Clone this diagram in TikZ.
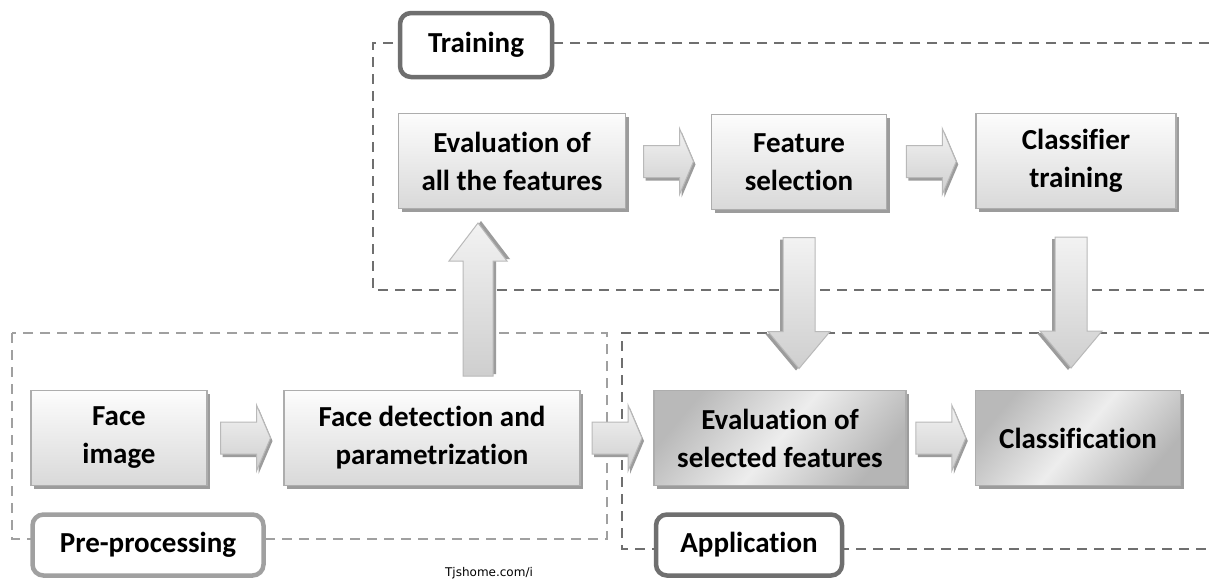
\documentclass[tikz,border=0pt]{standalone}
\usepackage{fontspec}
\setmainfont{Carlito}[Ligatures=CommonOff]
\newfontfamily\markfont{DejaVu Sans}
\usepackage{tikz}
\usetikzlibrary{calc,shadows}

\definecolor{dashdark}{HTML}{6F6F6F}
\definecolor{dashlight}{HTML}{A0A0A0}
\definecolor{boxline}{HTML}{ADADAD}
\definecolor{boxshade}{HTML}{9C9C9C}

\tikzset{
  frame/.style={dash pattern=on 10pt off 7pt, line width=2.2pt},
  tag/.style={draw, fill=white, rounded corners=11pt, line width=4.5pt,
    font=\fontsize{29}{32}\selectfont\bfseries},
  stage/.style={draw=boxline, line width=1.6pt, top color=gray!2, bottom color=gray!30,
    general shadow={fill=boxshade, shadow xshift=3pt, shadow yshift=-3pt},
    minimum height=95pt, align=center, font=\fontsize{29}{38}\selectfont\bfseries},
  applstage/.style={stage, left color=gray!55, right color=gray!58, middle color=gray!14,
    shading angle=50},
  pics/blockarrow/.style args={#1/#2/#3/#4}{code={
    \fill[boxshade] (-#1/2+2,-#3+3) -- (#1/2-#2+2,-#3+3) -- (#1/2-#2+2,-#4+3) -- (#1/2+2,3)
      -- (#1/2-#2+2,#4+3) -- (#1/2-#2+2,#3+3) -- (-#1/2+2,#3+3) -- cycle;
    \draw[draw=gray!55, line width=1pt, top color=gray!10, bottom color=gray!38]
      (-#1/2,-#3) -- (#1/2-#2,-#3) -- (#1/2-#2,-#4) -- (#1/2,0)
      -- (#1/2-#2,#4) -- (#1/2-#2,#3) -- (-#1/2,#3) -- cycle;
  }},
}

\begin{document}
\begin{tikzpicture}[x=1pt, y=-1pt]
\useasboundingbox[fill=white] (0,0) rectangle (1209,582);

% dashed frames
\draw[frame, draw=dashdark] (1209,43) -- (373,43) -- (373,290) -- (1209,290);
\draw[frame, draw=dashlight] (12,333) rectangle (607,539);
\draw[frame, draw=dashdark] (1209,333) -- (622,333) -- (622,549) -- (1209,549);

% frame labels
\node[tag, draw=dashdark, minimum width=152, minimum height=64] (train) at (476,45) {Training};
\node[tag, draw=dashlight, minimum width=231, minimum height=61] (prep) at (148,545) {Pre-processing};
\node[tag, draw=dashdark, minimum width=186, minimum height=61] (appl) at (749,545) {Application};

% training row
\node[stage, minimum width=227] (evalall) at (512,161) {Evaluation of\\all the features};
\node[stage, minimum width=175] (featsel) at (799,162) {Feature\\selection};
\node[stage, minimum width=200] (clstrain) at (1076,161) {Classifier\\training};

% pre-processing row
\node[stage, minimum width=176] (faceimg) at (119,438) {Face\\image};
\node[stage, minimum width=296] (facedet) at (432,438) {Face detection and\\parametrization};

% application row
\node[applstage, minimum width=252] (evalsel) at (780,438) {Evaluation of\\selected features};
\node[applstage, minimum width=205] (classif) at (1078,438) {Classification};

% block arrows
\pic at ($(evalall.east)!0.5!(featsel.west)$) {blockarrow={50/14/16/33}};
\pic at ($(featsel.east)!0.5!(clstrain.west)$) {blockarrow={50/14/16/33}};
\pic at ($(faceimg.east)!0.5!(facedet.west)$) {blockarrow={50/14/16/33}};
\pic at ($(facedet.east)!0.5!(evalsel.west)$) {blockarrow={50/14/16/33}};
\pic at ($(evalsel.east)!0.5!(classif.west)$) {blockarrow={50/14/16/33}};
\pic[rotate=90] at ($(facedet.north)!0.5!(evalall.south)+(6,0)$) {blockarrow={153/38/15/29}};
\pic[rotate=-90] at ($(featsel.south)!0.5!(featsel.south |- evalsel.north)+(0,3)$) {blockarrow={131/37/16/31}};
\pic[rotate=-90] at ($(clstrain.south)!0.5!(clstrain.south |- classif.north)+(-5,3)$) {blockarrow={131/37/16/31}};

\node[font=\markfont\fontsize{12}{14}\selectfont] (mark) at (489,573) {Tjshome.com/i};
\end{tikzpicture}
\end{document}
